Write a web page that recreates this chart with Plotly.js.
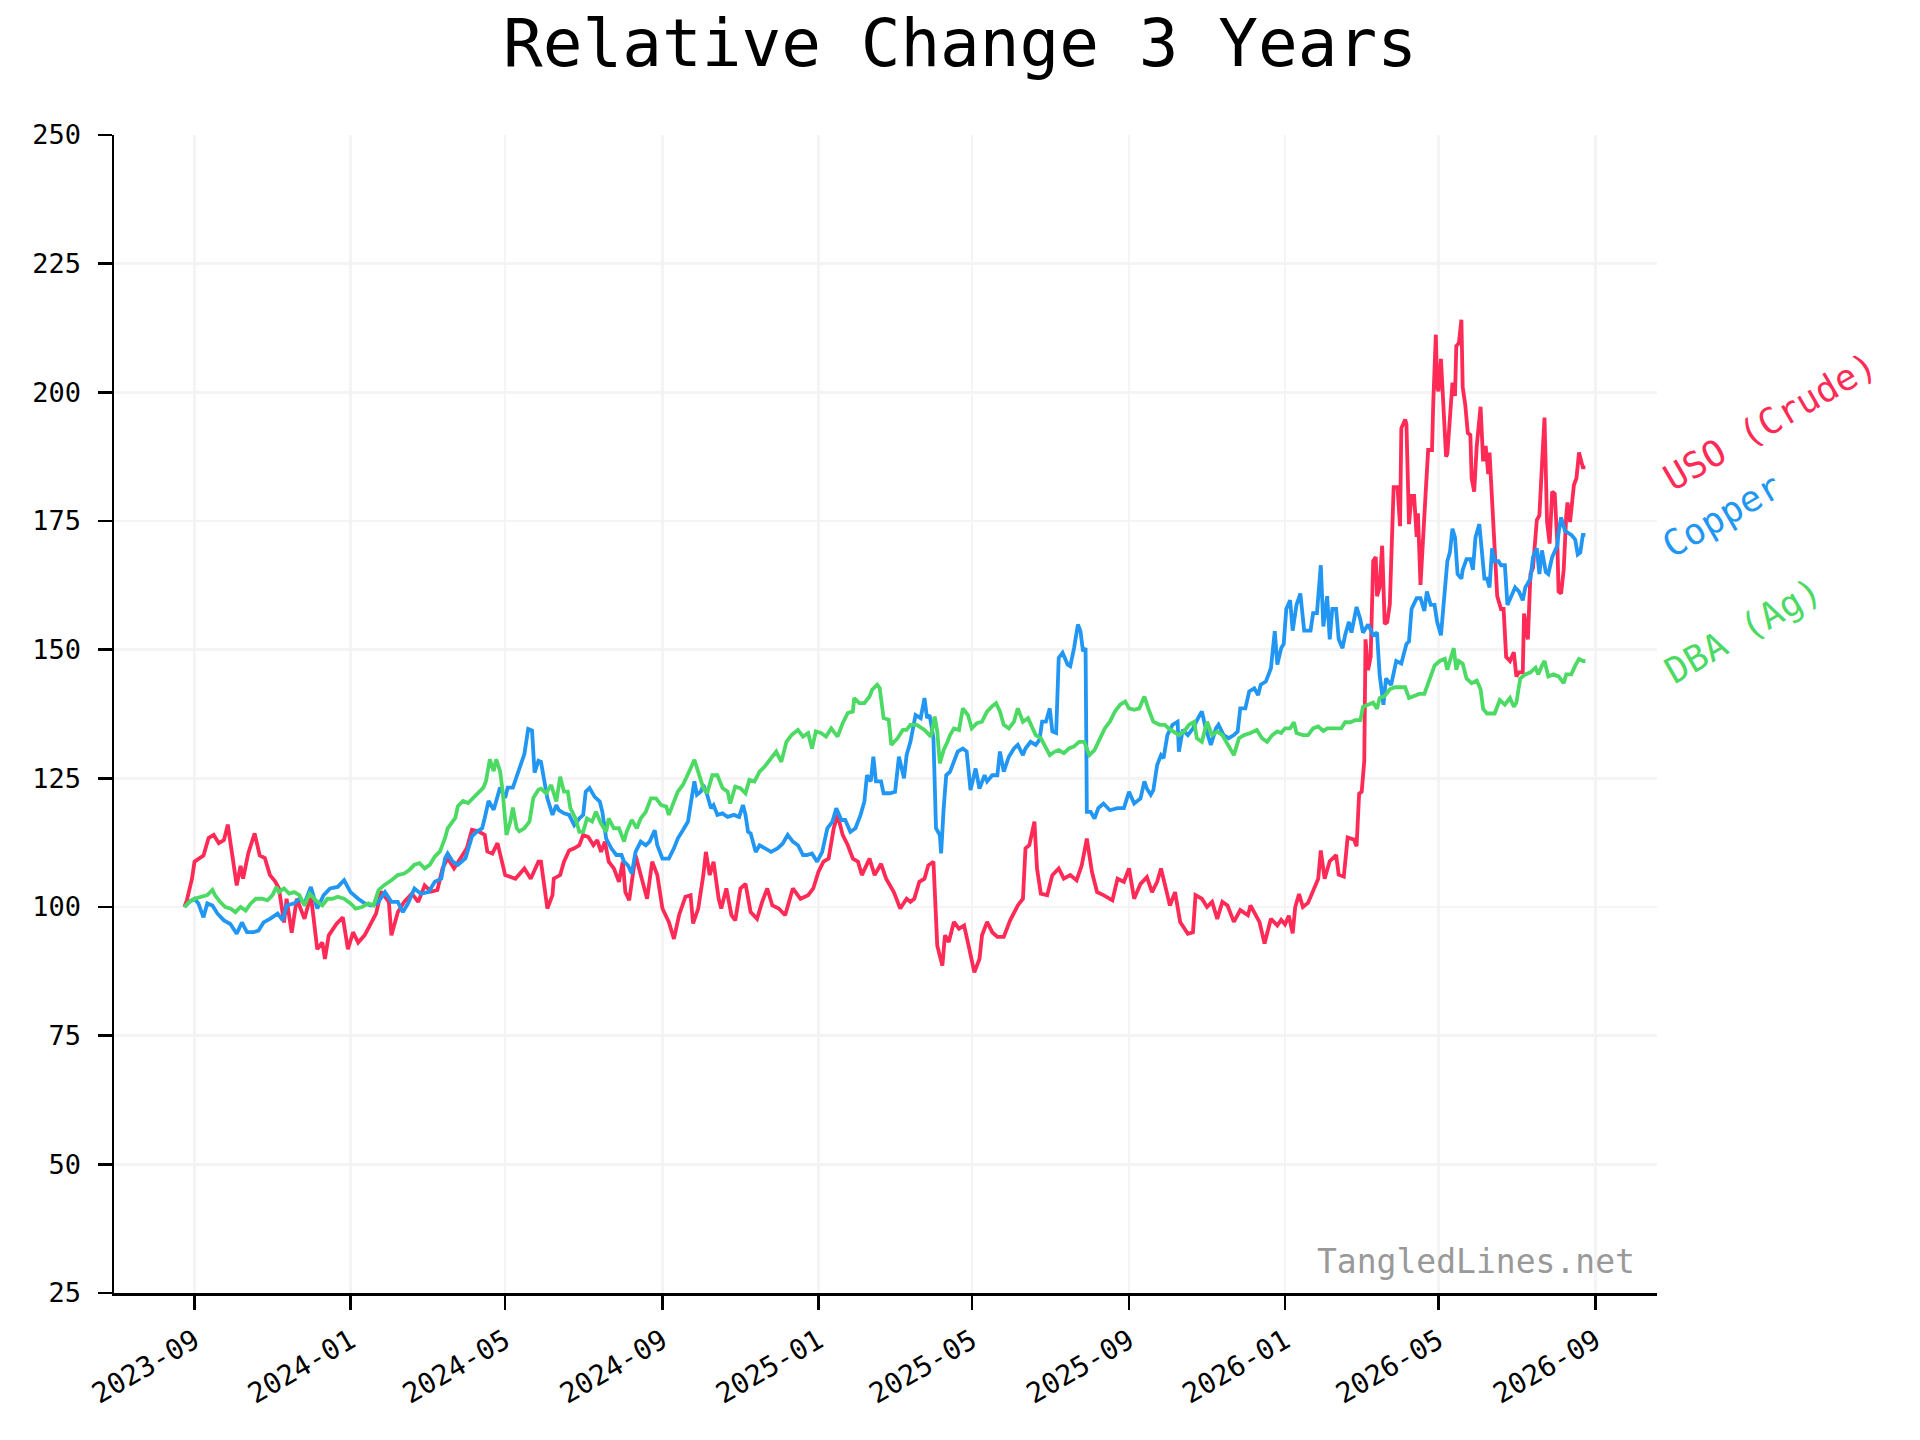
<!DOCTYPE html>
<html>
<head>
<meta charset="utf-8">
<script src="https://cdn.plot.ly/plotly-3.0.1.min.js"></script>
<style>
  body { margin: 0; background: white; }
  #chart { width: 1920px; height: 1440px; }
</style>
</head>
<body>
<div id="chart"></div>
<script>
// USO (Crude), relative to start = 100
var usoDates = ["2023-08-24","2023-08-26","2023-08-30","2023-09-01","2023-09-05","2023-09-08","2023-09-12","2023-09-16","2023-09-20","2023-09-24","2023-09-27","2023-09-30","2023-10-04","2023-10-07","2023-10-09","2023-10-13","2023-10-18","2023-10-22","2023-10-26","2023-10-30","2023-11-03","2023-11-06","2023-11-10","2023-11-12","2023-11-16","2023-11-20","2023-11-26","2023-12-01","2023-12-06","2023-12-10","2023-12-12","2023-12-15","2023-12-21","2023-12-26","2023-12-30","2024-01-03","2024-01-07","2024-01-12","2024-01-17","2024-01-21","2024-01-25","2024-01-31","2024-02-02","2024-02-07","2024-02-12","2024-02-18","2024-02-23","2024-02-28","2024-03-04","2024-03-09","2024-03-13","2024-03-17","2024-03-22","2024-03-27","2024-04-01","2024-04-05","2024-04-10","2024-04-15","2024-04-17","2024-04-21","2024-04-25","2024-05-01","2024-05-09","2024-05-16","2024-05-21","2024-05-27","2024-05-29","2024-06-03","2024-06-07","2024-06-08","2024-06-13","2024-06-16","2024-06-20","2024-06-24","2024-06-28","2024-07-01","2024-07-05","2024-07-09","2024-07-12","2024-07-15","2024-07-18","2024-07-21","2024-07-25","2024-07-29","2024-08-01","2024-08-03","2024-08-06","2024-08-11","2024-08-15","2024-08-20","2024-08-24","2024-08-28","2024-09-01","2024-09-06","2024-09-10","2024-09-14","2024-09-19","2024-09-23","2024-09-25","2024-09-29","2024-10-03","2024-10-05","2024-10-08","2024-10-11","2024-10-15","2024-10-17","2024-10-21","2024-10-25","2024-10-28","2024-11-01","2024-11-05","2024-11-09","2024-11-14","2024-11-18","2024-11-22","2024-11-26","2024-12-01","2024-12-06","2024-12-12","2024-12-18","2024-12-24","2024-12-28","2025-01-01","2025-01-05","2025-01-09","2025-01-13","2025-01-16","2025-01-20","2025-01-24","2025-01-28","2025-02-01","2025-02-04","2025-02-10","2025-02-14","2025-02-19","2025-02-23","2025-03-01","2025-03-06","2025-03-11","2025-03-14","2025-03-17","2025-03-21","2025-03-25","2025-03-28","2025-04-01","2025-04-04","2025-04-08","2025-04-10","2025-04-13","2025-04-17","2025-04-21","2025-04-25","2025-04-29","2025-05-03","2025-05-07","2025-05-09","2025-05-13","2025-05-17","2025-05-21","2025-05-26","2025-05-31","2025-06-06","2025-06-10","2025-06-12","2025-06-15","2025-06-19","2025-06-21","2025-06-24","2025-06-29","2025-07-03","2025-07-08","2025-07-12","2025-07-17","2025-07-22","2025-07-26","2025-07-30","2025-08-03","2025-08-07","2025-08-12","2025-08-19","2025-08-23","2025-08-28","2025-09-01","2025-09-05","2025-09-10","2025-09-15","2025-09-19","2025-09-23","2025-09-26","2025-09-30","2025-10-03","2025-10-07","2025-10-11","2025-10-17","2025-10-21","2025-10-23","2025-10-28","2025-11-01","2025-11-05","2025-11-09","2025-11-13","2025-11-17","2025-11-22","2025-11-27","2025-12-03","2025-12-05","2025-12-12","2025-12-16","2025-12-21","2025-12-26","2025-12-29","2026-01-01","2026-01-04","2026-01-07","2026-01-09","2026-01-12","2026-01-15","2026-01-19","2026-01-23","2026-01-27","2026-01-29","2026-02-01","2026-02-05","2026-02-10","2026-02-12","2026-02-16","2026-02-19","2026-02-24","2026-02-26","2026-02-28","2026-03-02","2026-03-04","2026-03-05","2026-03-07","2026-03-09","2026-03-11","2026-03-13","2026-03-14","2026-03-16","2026-03-18","2026-03-20","2026-03-22","2026-03-24","2026-03-27","2026-03-30","2026-04-01","2026-04-02","2026-04-05","2026-04-06","2026-04-08","2026-04-10","2026-04-12","2026-04-14","2026-04-15","2026-04-17","2026-04-19","2026-04-21","2026-04-23","2026-04-26","2026-04-27","2026-04-29","2026-04-30","2026-05-01","2026-05-03","2026-05-04","2026-05-07","2026-05-08","2026-05-10","2026-05-12","2026-05-14","2026-05-15","2026-05-17","2026-05-19","2026-05-20","2026-05-22","2026-05-24","2026-05-26","2026-05-27","2026-05-29","2026-05-31","2026-06-03","2026-06-05","2026-06-07","2026-06-09","2026-06-10","2026-06-12","2026-06-14","2026-06-16","2026-06-19","2026-06-21","2026-06-23","2026-06-26","2026-06-29","2026-07-01","2026-07-03","2026-07-06","2026-07-07","2026-07-10","2026-07-12","2026-07-14","2026-07-17","2026-07-19","2026-07-21","2026-07-23","2026-07-25","2026-07-27","2026-07-29","2026-07-31","2026-08-02","2026-08-03","2026-08-05","2026-08-07","2026-08-09","2026-08-10","2026-08-12","2026-08-15","2026-08-17","2026-08-19","2026-08-22","2026-08-24"];
var usoValues = [100,101.3,105.5,108.8,109.5,110,113.4,114,112.4,113,116,111.4,104.2,108,105.5,110.4,114.3,110,109.5,106.2,105,103.6,97,101.6,95,101.6,97.7,102.3,91.8,93.1,89.9,94.5,96.7,98,91.8,95.1,93.1,94.5,97,98.7,103,101,94.5,99,101,102.6,101,104.2,103,103.3,107.5,109.5,107.5,109.5,111.4,115,114.7,114,110.8,110.4,112.4,106.2,105.5,107.5,105.5,108.8,108.8,99.7,102.3,105.5,106.2,108.8,111,111.4,112,114,113.6,112,113,110.7,112.7,108.8,107.5,104.9,108.8,102.9,101.3,110,106.2,101.6,108.8,106.2,99.7,97.1,93.8,98.4,102,102.3,96.8,99.7,106.2,110.7,106.2,108.8,101.6,99.7,103.6,98.4,97.4,103.6,104.5,99,97.7,101,103.6,100.3,99.7,98.4,103.6,101.6,102.3,103.6,106.8,108.8,109.4,115.3,117.9,114,112,109.4,108.8,106.2,109.4,106.2,108.4,105.5,102.9,99.7,101.6,101,101.6,104.9,105.5,108.1,108.8,92.5,88.6,94.5,93.2,97.1,95.8,96.4,91.9,87.3,89.9,94.5,97.1,95.1,94.2,94.2,97.4,100.3,101.6,111.4,112,116.6,107.5,102.6,102.3,106.2,107.5,105.5,106.2,105.2,108.1,113.3,106.8,102.9,102.3,101.3,105.5,104.9,107.5,101.6,104.5,105.8,102.9,104.9,107.5,103.6,100.3,102.9,97.1,94.8,95.1,102.3,101.6,100,101,97.7,101,100.3,97.1,99.4,98.4,100.3,97.1,92.9,97.7,96.4,97.5,96.6,98.3,94.9,100,102.5,100,100.8,103,105.5,111,105.5,108.9,110.1,106.3,105.9,113.5,113.1,111.8,122,122.4,128.3,152,146,148.6,167.2,168,160.4,162.1,170.2,155,155.4,158.8,181.6,181.6,174,193,194.7,193.8,174.4,179.9,179.9,171.9,176.5,162.6,170.2,180.3,188.8,188.8,198,211.2,201,200.2,206.5,201,187.5,188,194.7,201.9,199.3,209,209.5,214.1,201,197.6,192.1,191.7,183.3,180.7,189.6,197.2,186.6,189.6,184.1,188.3,179,169.7,160.4,157.9,157.9,148.6,147.8,149.5,144.8,145.6,145.6,157,152,164.7,165.9,175.2,176.1,185.8,195.1,174.8,170.6,180.7,180.3,171,161.3,160.9,165.5,176.1,178.6,174.8,182,183.3,188.3,185.4,185.4];

// Copper
var copperDates = ["2023-08-24","2023-08-28","2023-09-01","2023-09-04","2023-09-08","2023-09-11","2023-09-15","2023-09-19","2023-09-24","2023-09-29","2023-10-04","2023-10-08","2023-10-12","2023-10-17","2023-10-21","2023-10-25","2023-10-30","2023-11-05","2023-11-09","2023-11-12","2023-11-18","2023-11-22","2023-11-26","2023-12-01","2023-12-06","2023-12-11","2023-12-16","2023-12-22","2023-12-27","2024-01-01","2024-01-07","2024-01-12","2024-01-17","2024-01-22","2024-01-28","2024-02-02","2024-02-07","2024-02-11","2024-02-15","2024-02-20","2024-02-25","2024-03-02","2024-03-07","2024-03-12","2024-03-15","2024-03-17","2024-03-21","2024-03-25","2024-03-31","2024-04-05","2024-04-09","2024-04-13","2024-04-15","2024-04-18","2024-04-22","2024-04-24","2024-04-27","2024-05-01","2024-05-03","2024-05-07","2024-05-12","2024-05-16","2024-05-19","2024-05-22","2024-05-24","2024-05-27","2024-05-29","2024-06-01","2024-06-03","2024-06-07","2024-06-10","2024-06-12","2024-06-16","2024-06-20","2024-06-24","2024-06-28","2024-07-01","2024-07-03","2024-07-06","2024-07-10","2024-07-14","2024-07-16","2024-07-19","2024-07-23","2024-07-27","2024-07-31","2024-08-02","2024-08-05","2024-08-08","2024-08-11","2024-08-15","2024-08-19","2024-08-22","2024-08-26","2024-08-28","2024-09-01","2024-09-06","2024-09-10","2024-09-13","2024-09-17","2024-09-21","2024-09-23","2024-09-26","2024-09-28","2024-10-01","2024-10-03","2024-10-06","2024-10-09","2024-10-11","2024-10-14","2024-10-18","2024-10-22","2024-10-27","2024-10-31","2024-11-03","2024-11-05","2024-11-07","2024-11-09","2024-11-13","2024-11-16","2024-11-20","2024-11-25","2024-11-30","2024-12-04","2024-12-08","2024-12-12","2024-12-16","2024-12-20","2024-12-23","2024-12-27","2024-12-31","2025-01-04","2025-01-08","2025-01-12","2025-01-15","2025-01-19","2025-01-22","2025-01-26","2025-01-30","2025-02-03","2025-02-06","2025-02-08","2025-02-11","2025-02-13","2025-02-15","2025-02-19","2025-02-21","2025-02-26","2025-03-02","2025-03-05","2025-03-09","2025-03-11","2025-03-14","2025-03-18","2025-03-22","2025-03-25","2025-03-27","2025-03-29","2025-04-01","2025-04-03","2025-04-06","2025-04-07","2025-04-09","2025-04-11","2025-04-14","2025-04-16","2025-04-20","2025-04-24","2025-04-27","2025-04-30","2025-05-04","2025-05-07","2025-05-11","2025-05-13","2025-05-17","2025-05-21","2025-05-23","2025-05-26","2025-05-30","2025-06-03","2025-06-06","2025-06-10","2025-06-12","2025-06-16","2025-06-20","2025-06-23","2025-06-25","2025-06-28","2025-07-01","2025-07-03","2025-07-06","2025-07-08","2025-07-11","2025-07-15","2025-07-17","2025-07-20","2025-07-23","2025-07-25","2025-07-27","2025-07-29","2025-07-30","2025-08-02","2025-08-05","2025-08-08","2025-08-12","2025-08-17","2025-08-23","2025-08-28","2025-09-01","2025-09-05","2025-09-10","2025-09-13","2025-09-15","2025-09-18","2025-09-20","2025-09-23","2025-09-26","2025-09-28","2025-10-01","2025-10-05","2025-10-09","2025-10-10","2025-10-13","2025-10-17","2025-10-21","2025-10-25","2025-10-28","2025-10-31","2025-11-04","2025-11-08","2025-11-10","2025-11-14","2025-11-18","2025-11-22","2025-11-25","2025-11-27","2025-12-01","2025-12-04","2025-12-08","2025-12-11","2025-12-13","2025-12-17","2025-12-21","2025-12-24","2025-12-26","2025-12-29","2025-12-31","2026-01-02","2026-01-05","2026-01-07","2026-01-10","2026-01-13","2026-01-16","2026-01-21","2026-01-23","2026-01-26","2026-01-29","2026-01-31","2026-02-03","2026-02-05","2026-02-07","2026-02-10","2026-02-12","2026-02-15","2026-02-17","2026-02-20","2026-02-22","2026-02-26","2026-03-01","2026-03-03","2026-03-07","2026-03-11","2026-03-14","2026-03-16","2026-03-19","2026-03-21","2026-03-25","2026-03-29","2026-04-02","2026-04-06","2026-04-08","2026-04-10","2026-04-14","2026-04-17","2026-04-20","2026-04-22","2026-04-25","2026-04-28","2026-04-30","2026-05-03","2026-05-06","2026-05-08","2026-05-10","2026-05-12","2026-05-14","2026-05-16","2026-05-19","2026-05-20","2026-05-23","2026-05-26","2026-05-28","2026-05-30","2026-06-02","2026-06-04","2026-06-06","2026-06-08","2026-06-10","2026-06-12","2026-06-14","2026-06-17","2026-06-19","2026-06-22","2026-06-24","2026-06-27","2026-06-30","2026-07-03","2026-07-06","2026-07-08","2026-07-12","2026-07-14","2026-07-17","2026-07-19","2026-07-21","2026-07-24","2026-07-26","2026-07-29","2026-07-31","2026-08-02","2026-08-03","2026-08-05","2026-08-08","2026-08-11","2026-08-13","2026-08-16","2026-08-18","2026-08-20","2026-08-22","2026-08-24"];
var copperValues = [100,101,101.6,100.7,98,100.7,100.3,98.7,97.4,96.7,94.8,97,95.1,95.1,95.4,97,97.7,98.7,97.4,100.3,100.7,101.6,100.7,103.9,99.7,102.3,103.6,103.9,105.2,102.9,101.6,100.7,100.3,100.7,102.9,101,101,99,100.7,103.6,102.6,102.9,104.9,105.5,109.5,110.4,108.8,108.2,109.5,113.7,114.7,115.3,117.3,120.6,118.9,120.6,123.2,121.2,123.2,123.2,127.1,129.7,134.6,134.3,126.1,128.4,128.2,123.7,121.1,117.9,119.8,118.8,118.2,117.9,115.9,117.2,117.9,122.4,123.1,121.4,120.5,118.5,113.3,111.4,110.1,110.1,108.8,108.1,106.5,110.7,112.7,112,112.7,114.9,112,109.4,109.4,111.4,113.3,114.9,116.6,119.8,124.4,121.8,122.4,123.7,121.8,119.2,119.8,117.9,118.2,117.5,117.9,117.5,119.8,117.9,114.6,114.3,110.7,112,111.4,110.7,111.4,112.3,114,112.7,112,110.1,110.1,110.4,108.8,110.7,115.3,116.6,119.2,116.9,116.9,114.6,115.3,117.9,120.5,125.6,124.4,129.2,124.4,124.4,122.1,122.1,122.4,129.2,125,129.5,132.1,137.3,136.7,140.6,136.7,137.3,132.8,115.3,114,110.4,119.2,125.6,126.3,127.6,130.2,130.8,130.2,122.7,126.9,123,125.6,124.4,125.6,125.6,130.2,126.3,129.2,130.8,131.5,129.5,130.8,132.1,131.5,132.5,136,136,138.6,134.1,133.8,148.4,149.4,147.1,146.8,150.3,154.9,153.6,149.7,150.3,118.5,118.5,117.2,119.2,120.1,118.8,119.2,119.2,122.4,120.1,121.1,124.4,123,121.8,122.7,127.6,129.5,128.9,133.4,135.4,136,130.2,134.4,133.4,134.7,136.7,138,134.7,131.5,134.7,135.4,133.4,132.8,133.4,134.1,138.6,138.6,141.9,142.5,141.2,143.2,143.8,146.4,153.6,147.1,150.3,151.1,157.9,159.6,153.7,158.7,160.9,153.7,153.7,157.1,157.1,166.4,154.5,160.4,152,157.9,157.9,152,150.3,152.8,155.4,153.3,158.3,155.8,153.3,154.9,152.8,153.3,145.2,139.3,144.4,143.1,147.8,147.3,151.1,151.6,157.9,160,160,157.5,161.3,158.7,158.7,155.4,152.8,160.4,167.2,168.9,173.5,171.8,164.7,163.8,165.5,167.6,167.6,165.5,171.8,174.4,169.7,163.8,163.8,162.1,169.7,167.2,167.2,166.4,166.4,158.7,160.4,162.1,161.3,159.6,162.1,163.8,168,169.7,164.7,169.3,165.1,164.7,168,169.3,170.2,172.7,175.7,173.1,172.7,172.3,171.4,168.5,168.9,172.3,172.3];

// DBA (Ag)
var dbaDates = ["2023-08-24","2023-08-28","2023-09-01","2023-09-07","2023-09-11","2023-09-15","2023-09-17","2023-09-21","2023-09-25","2023-09-29","2023-10-03","2023-10-07","2023-10-11","2023-10-15","2023-10-19","2023-10-24","2023-10-28","2023-11-01","2023-11-04","2023-11-06","2023-11-10","2023-11-14","2023-11-18","2023-11-22","2023-11-26","2023-11-30","2023-12-04","2023-12-06","2023-12-10","2023-12-14","2023-12-18","2023-12-22","2023-12-27","2024-01-01","2024-01-05","2024-01-10","2024-01-15","2024-01-19","2024-01-23","2024-01-27","2024-02-02","2024-02-07","2024-02-12","2024-02-16","2024-02-20","2024-02-24","2024-02-28","2024-03-03","2024-03-07","2024-03-11","2024-03-15","2024-03-17","2024-03-23","2024-03-25","2024-03-29","2024-04-02","2024-04-06","2024-04-10","2024-04-14","2024-04-16","2024-04-19","2024-04-22","2024-04-24","2024-04-27","2024-04-29","2024-05-02","2024-05-05","2024-05-07","2024-05-10","2024-05-12","2024-05-16","2024-05-20","2024-05-23","2024-05-27","2024-05-29","2024-06-02","2024-06-06","2024-06-10","2024-06-13","2024-06-16","2024-06-19","2024-06-21","2024-06-25","2024-06-28","2024-07-01","2024-07-04","2024-07-08","2024-07-11","2024-07-15","2024-07-19","2024-07-21","2024-07-25","2024-07-29","2024-08-02","2024-08-04","2024-08-08","2024-08-12","2024-08-15","2024-08-19","2024-08-23","2024-08-27","2024-08-31","2024-09-04","2024-09-06","2024-09-10","2024-09-13","2024-09-17","2024-09-21","2024-09-23","2024-09-26","2024-09-30","2024-10-03","2024-10-06","2024-10-10","2024-10-14","2024-10-18","2024-10-22","2024-10-24","2024-10-28","2024-11-01","2024-11-05","2024-11-08","2024-11-12","2024-11-16","2024-11-20","2024-11-25","2024-11-29","2024-12-03","2024-12-07","2024-12-11","2024-12-16","2024-12-20","2024-12-24","2024-12-27","2024-12-30","2025-01-03","2025-01-07","2025-01-11","2025-01-16","2025-01-20","2025-01-24","2025-01-28","2025-01-29","2025-02-02","2025-02-06","2025-02-10","2025-02-12","2025-02-16","2025-02-18","2025-02-21","2025-02-25","2025-02-27","2025-03-04","2025-03-08","2025-03-11","2025-03-14","2025-03-19","2025-03-25","2025-03-30","2025-04-02","2025-04-04","2025-04-06","2025-04-09","2025-04-12","2025-04-14","2025-04-17","2025-04-21","2025-04-24","2025-04-28","2025-05-01","2025-05-05","2025-05-09","2025-05-13","2025-05-17","2025-05-20","2025-05-23","2025-05-26","2025-05-30","2025-06-03","2025-06-06","2025-06-10","2025-06-14","2025-06-18","2025-06-20","2025-06-24","2025-06-28","2025-07-01","2025-07-05","2025-07-08","2025-07-12","2025-07-16","2025-07-20","2025-07-24","2025-07-28","2025-08-01","2025-08-05","2025-08-09","2025-08-13","2025-08-17","2025-08-21","2025-08-25","2025-08-29","2025-09-01","2025-09-05","2025-09-09","2025-09-13","2025-09-16","2025-09-20","2025-09-25","2025-09-29","2025-10-02","2025-10-06","2025-10-10","2025-10-14","2025-10-18","2025-10-22","2025-10-24","2025-10-28","2025-11-01","2025-11-05","2025-11-09","2025-11-13","2025-11-17","2025-11-19","2025-11-22","2025-11-26","2025-11-30","2025-12-05","2025-12-10","2025-12-14","2025-12-18","2025-12-22","2025-12-26","2025-12-29","2026-01-01","2026-01-05","2026-01-08","2026-01-10","2026-01-15","2026-01-19","2026-01-23","2026-01-27","2026-01-31","2026-02-03","2026-02-08","2026-02-14","2026-02-17","2026-02-21","2026-02-25","2026-03-01","2026-03-03","2026-03-07","2026-03-11","2026-03-14","2026-03-16","2026-03-20","2026-03-24","2026-03-28","2026-04-01","2026-04-05","2026-04-08","2026-04-12","2026-04-16","2026-04-20","2026-04-24","2026-04-28","2026-05-02","2026-05-06","2026-05-08","2026-05-11","2026-05-13","2026-05-15","2026-05-17","2026-05-20","2026-05-23","2026-05-27","2026-05-31","2026-06-03","2026-06-05","2026-06-08","2026-06-12","2026-06-14","2026-06-18","2026-06-22","2026-06-26","2026-06-29","2026-07-01","2026-07-04","2026-07-08","2026-07-12","2026-07-16","2026-07-18","2026-07-21","2026-07-23","2026-07-26","2026-07-30","2026-08-03","2026-08-07","2026-08-09","2026-08-13","2026-08-16","2026-08-19","2026-08-22","2026-08-24"];
var dbaValues = [100,101,101.6,102,102.3,103.3,102.3,101,100,99.7,99,100,99.3,100.7,101.6,101.6,101.3,102.3,103.9,102.9,103.6,102.6,102.9,102.3,100.3,102.6,101.6,101,100.3,101.6,101.6,102,101.6,100.7,99.7,100,100.7,100.3,103.3,104.2,105.2,106.2,106.5,107.2,108.2,108.5,107.5,108.2,109.8,110.8,113.4,115.3,117.3,119.6,120.6,120.2,121.2,122.2,123.2,124.5,128.7,126.4,128.7,126.4,122.5,114,116.6,119.3,115.3,114.7,115.3,116.6,121.2,122.8,123,122.1,123.7,120.5,125.3,122.4,122.4,119.2,117.2,114.6,114.6,117.2,116.6,118.5,116.2,114.6,117.2,115.3,115.3,112.7,114.6,116.9,115.3,117.2,118.5,121.1,121.1,119.8,119.5,117.9,120.5,122.4,123.7,125.6,126.9,128.6,125.6,123.1,122.1,125.6,125.6,123.1,122.4,120.1,123.4,123.1,122.1,124.7,124.4,126.3,127.3,128.9,130.2,128.2,132.1,133.4,134.4,133.1,133.8,130.8,134.1,133.8,133.1,134.7,133.1,135.7,137.7,138,140.6,139.6,139.6,140.9,142.2,143.2,142.5,136.7,136.4,131.5,132.8,134.4,134.4,135.4,135.4,134.4,133.1,137,134.1,127.9,130.5,132.1,133.4,134.7,134.4,138.6,137.3,134.7,135.7,136,138,139,139.6,138,135.4,134.7,136,138.6,136,136.7,134.7,133.4,132.8,130.8,129.5,130.2,130.5,129.9,130.8,131.2,132.1,132.1,129.5,130.5,132.8,134.7,136,138,139.3,139.9,138.6,138.3,138.6,140.9,138.6,136,135.4,135.4,134.7,134.1,133.4,134.1,135.4,136,132.8,132.1,136,133.4,134.1,133.4,131.5,130.8,129.5,132.8,133.4,133.8,134.4,132.8,132.1,133.4,134.1,133.8,134.7,134.7,135.9,133.8,133.4,133.4,134.7,135.1,134.2,134.7,134.7,134.7,135.9,135.9,136.3,136.3,138.9,139.3,139.7,138.5,140.6,141,142.3,142.7,142.7,142.7,140.6,141,141.4,141.4,144.4,146.9,147.8,148.2,146.1,148.6,150.3,146.1,147.8,147.3,144.4,143.5,144,142.3,138.5,137.6,137.6,137.6,140.2,139.3,140.6,138.9,139.7,144.4,145.2,145.6,146.5,145.2,146.9,147.8,144.8,145.2,144.8,143.5,145.2,145.2,146.9,148.2,147.8,147.8];

var seriesNames  = ["USO (Crude)", "Copper", "DBA (Ag)"];
var seriesColors = ["#ff2a55", "#2196f3", "#4cd964"];
var seriesDates  = [usoDates, copperDates, dbaDates];
var seriesValues = [usoValues, copperValues, dbaValues];

// label spots to the right of the plot (paper x, paper y)
var labelX = [1.0732, 1.0421, 1.0557];
var labelY = [0.7522, 0.671, 0.5725];

var FONT = "DejaVu Sans Mono";

var data = [];
for (let i = 0; i < seriesNames.length; i++) {
  data.push({
    x: seriesDates[i],
    y: seriesValues[i],
    type: "scatter",
    mode: "lines",
    name: seriesNames[i],
    line: {color: seriesColors[i], width: 3.8},
    hoverinfo: "skip"
  });
}

var annotations = [];
for (let i = 0; i < seriesNames.length; i++) {
  annotations.push({
    text: seriesNames[i],
    xref: "paper", yref: "paper",
    x: labelX[i], y: labelY[i],
    xanchor: "center", yanchor: "middle",
    textangle: -30,
    showarrow: false,
    font: {family: FONT, size: 36, color: seriesColors[i]}
  });
}
annotations.push({
  text: "TangledLines.net",
  xref: "paper", yref: "paper",
  x: 0.987, y: 0.0276,
  xanchor: "right", yanchor: "middle",
  showarrow: false,
  font: {family: FONT, size: 33, color: "#999999"}
});

var axisStyle = {
  showgrid: true,
  gridcolor: "#f4f4f4",
  gridwidth: 2.5,
  showline: true,
  linecolor: "black",
  linewidth: 2.5,
  ticks: "outside",
  ticklen: 14,
  tickwidth: 2.5,
  tickcolor: "black",
  zeroline: false
};

var layout = {
  width: 1920,
  height: 1440,
  margin: {l: 114, r: 263, t: 135, b: 147},
  paper_bgcolor: "white",
  plot_bgcolor: "white",
  showlegend: false,
  title: {
    text: "Relative Change 3 Years",
    x: 0.5, xref: "container", xanchor: "center",
    y: 0.97, yref: "container", yanchor: "middle",
    font: {family: FONT, size: 66, color: "black"}
  },
  xaxis: Object.assign({}, axisStyle, {
    type: "date",
    range: ["2023-06-30", "2026-10-19"],
    tick0: "2023-09-01",
    dtick: "M4",
    tickformat: "%Y-%m",
    tickangle: -30,
    ticklabelstandoff: 4,
    tickfont: {family: FONT, size: 28, color: "black"}
  }),
  yaxis: Object.assign({}, axisStyle, {
    range: [25, 250],
    tick0: 0,
    dtick: 25,
    ticklabelstandoff: 11,
    tickfont: {family: FONT, size: 27, color: "black"}
  }),
  annotations: annotations
};

Plotly.newPlot("chart", data, layout, {staticPlot: true});
</script>
</body>
</html>
